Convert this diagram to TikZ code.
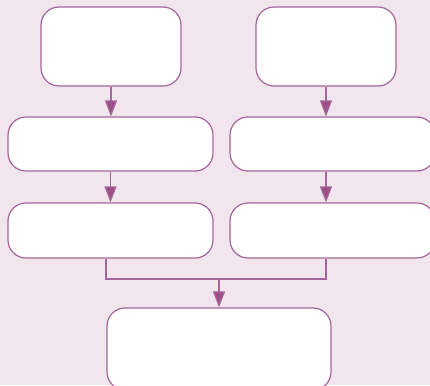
\documentclass[tikz,border=0pt]{standalone}
\usetikzlibrary{arrows.meta}
\definecolor{bgpink}{HTML}{F1E6EE}
\definecolor{edge}{HTML}{A5649A}
\definecolor{tip}{HTML}{9B4F85}
\begin{document}
\begin{tikzpicture}[x=1pt,y=-1pt,
  box/.style={draw=edge,fill=white,line width=1.2pt,rounded corners=18pt,inner sep=0pt},
  conn/.style={draw=edge,line width=1.3pt},
  arr/.style={conn,-{Triangle[width=12pt,length=16pt,fill=tip]}}]
\fill[bgpink] (0,0) rectangle (430,385);
\useasboundingbox (0,0) rectangle (430,385);
\clip (0,0) rectangle (430,385);
\node[box,minimum width=140pt,minimum height=79pt] (A) at (111,46.5) {};
\node[box,minimum width=140pt,minimum height=79pt] (B) at (326,46.5) {};
\node[box,minimum width=205pt,minimum height=54pt] (C) at (110.5,144) {};
\node[box,minimum width=205pt,minimum height=54pt] (D) at (332.5,144) {};
\node[box,minimum width=205pt,minimum height=55pt] (E) at (110.5,230.5) {};
\node[box,minimum width=205pt,minimum height=55pt] (F) at (332.5,230.5) {};
\node[box,minimum width=224pt,minimum height=82pt] (G) at (219,349) {};
\coordinate (j) at (219,279);
\draw[arr] (A.south) -- (A.south |- C.north);
\draw[arr] (B.south) -- (B.south |- D.north);
\draw[arr] (C.south) -- (C.south |- E.north);
\draw[arr] (B.south |- D.south) -- (B.south |- F.north);
\draw[conn] ([xshift=-4.5pt]E.south) |- (B.south |- j) -- (B.south |- F.south);
\draw[arr] (j) -- (G.north);
\end{tikzpicture}
\end{document}
